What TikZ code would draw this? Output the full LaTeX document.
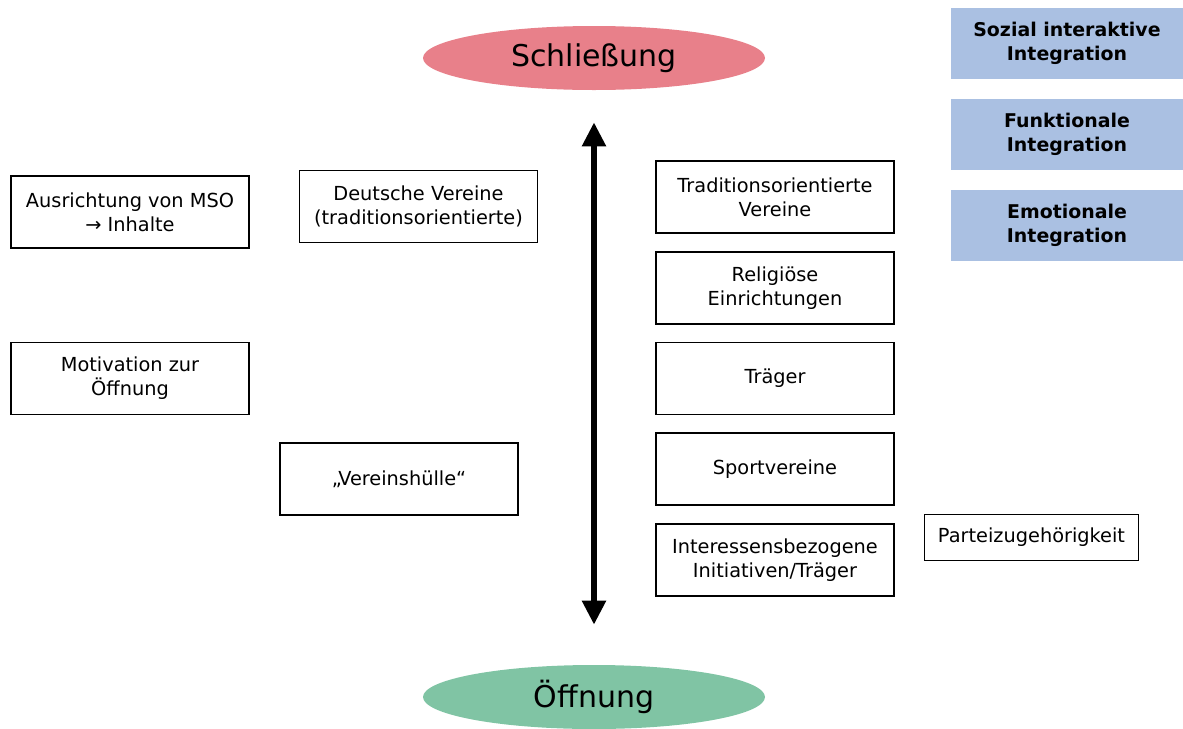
\documentclass[tikz,border=0pt]{standalone}
\usepackage{fontspec}
\setmainfont{DejaVu Sans}
\usetikzlibrary{positioning,arrows.meta,shapes.geometric}
\definecolor{schlred}{RGB}{232,128,138}
\definecolor{oeffgreen}{RGB}{128,196,164}
\definecolor{integblue}{RGB}{170,192,226}

\begin{document}
\begin{tikzpicture}[x=0.75pt,y=-0.75pt,
            box/.style={rectangle,draw=black,line width=0.8pt,
                        minimum width=178.5pt,minimum height=54pt,
                        align=center,font=\fontsize{14.5}{18}\selectfont,
                        inner sep=2pt},
            integ/.style={rectangle,fill=integblue,
                        minimum width=174.75pt,minimum height=53pt,
                        align=center,font=\fontsize{14.2}{18}\selectfont\bfseries},
            pole/.style={ellipse,minimum width=256.5pt,minimum height=48pt,
                        font=\fontsize{22.5}{26}\selectfont},
            dbl/.style={{Triangle[width=17pt,length=18pt]}-{Triangle[width=17pt,length=18pt]},
                        line width=4.5pt}]
            \useasboundingbox (0,0) rectangle (1183,729);
            % Pole
            \node[pole,fill=schlred] (schl) at (594,58) {Schließung};
            \node[pole,fill=oeffgreen] (oeff) at (594,697) {Öffnung};
            \draw[dbl,shorten <=24pt,shorten >=30pt] (schl) -- (oeff);
            % linke Seite
            \node[box] (ausr) at (130,212)   {Ausrichtung von MSO\\→ Inhalte};
            \node[box] (deut) at (418.5,206.5) {Deutsche Vereine\\(traditionsorientierte)};
            \node[box] (moti) at (130,378.5) {Motivation zur\\Öffnung};
            \node[box] (huel) at (399,479)   {„Vereinshülle“};
            % rechte Seite
            \node[box] (trad)  at (775,197)   {Traditionsorientierte\\Vereine};
            \node[box] (reli)  at (775,288)   {Religiöse\\Einrichtungen};
            \node[box] (trae)  at (775,378.5) {Träger};
            \node[box] (sport) at (775,469)   {Sportvereine};
            \node[box] (inter) at (775,560)   {Interessensbezogene\\Initiativen/Träger};
            \node[box,minimum width=161pt,minimum height=35pt]
                       (partei) at (1031.5,537.5) {Parteizugehörigkeit};
            % Integration
            \node[integ] (sozi) at (1067,43.5)  {Sozial interaktive\\Integration};
            \node[integ] (funk) at (1067,134.5) {Funktionale\\Integration};
            \node[integ] (emot) at (1067,225.5) {Emotionale\\Integration};
        \end{tikzpicture}
\end{document}
